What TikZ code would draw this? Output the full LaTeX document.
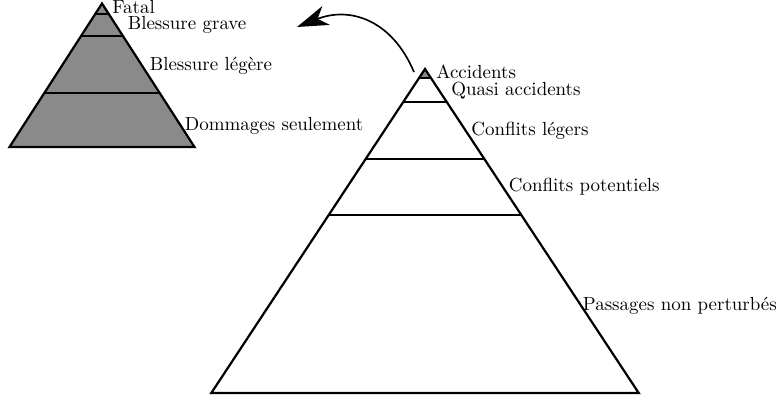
\documentclass[tikz,border=0pt]{standalone}
\usetikzlibrary{calc,arrows.meta}
\definecolor{pyrfill}{gray}{0.54}
\begin{document}
\begin{tikzpicture}[x=0.5435pt,y=-0.5435pt,
  edge/.style={line width=1.2pt},
  lbl/.style={anchor=base west,inner sep=0pt,font=\fontsize{10.3}{12}\selectfont}]
\useasboundingbox (0,0) rectangle (777,400);

% small pyramid (severity of injuries), fully shaded
\coordinate (sA) at (102,3.5);
\coordinate (sL) at (9.5,147);
\coordinate (sR) at (194.5,147);
\fill[pyrfill] (sA) -- (sL) -- (sR) -- cycle;
\foreach \f in {0.073,0.226,0.622}
  \draw[edge] ($(sA)!\f!(sL)$) -- ($(sA)!\f!(sR)$);
\draw[edge] (sA) -- (sL) -- (sR) -- cycle;

% large pyramid (traffic events), only the tip shaded
\coordinate (bA) at (425,69);
\coordinate (bL) at (211.3,393);
\coordinate (bR) at (638.7,393);
\fill[pyrfill] (bA) -- ($(bA)!0.0287!(bL)$) -- ($(bA)!0.0287!(bR)$) -- cycle;
\foreach \f in {0.0287,0.102,0.277,0.451}
  \draw[edge] ($(bA)!\f!(bL)$) -- ($(bA)!\f!(bR)$);
\draw[edge] (bA) -- (bL) -- (bR) -- cycle;

% labels of the small pyramid
\node[lbl] (fatal)    at (112,13.5)  {Fatal};
\node[lbl] (bgrave)   at (127.5,29.5)  {Blessure grave};
\node[lbl] (blegere)  at (149.5,70)  {Blessure légère};
\node[lbl] (dommages) at (184.5,130) {Dommages seulement};

% labels of the large pyramid
\node[lbl] (accidents) at (436,78)    {Accidents};
\node[lbl] (quasi)     at (451,95)    {Quasi accidents};
\node[lbl] (cleg)      at (471,135)   {Conflits légers};
\node[lbl] (cpot)      at (508.5,191.5) {Conflits potentiels};
\node[lbl] (passages)  at (582.5,310) {Passages non perturbés};

% curved arrow from the large pyramid towards the small one
\coordinate (arrStart) at (414,72);
\coordinate (arrEnd) at (297,27);
\draw[line width=0.9pt,-{Stealth[length=17pt,width=11pt,inset=5pt]}]
  (arrStart) .. controls (392,20) and (350,6) .. (arrEnd);
\end{tikzpicture}
\end{document}
